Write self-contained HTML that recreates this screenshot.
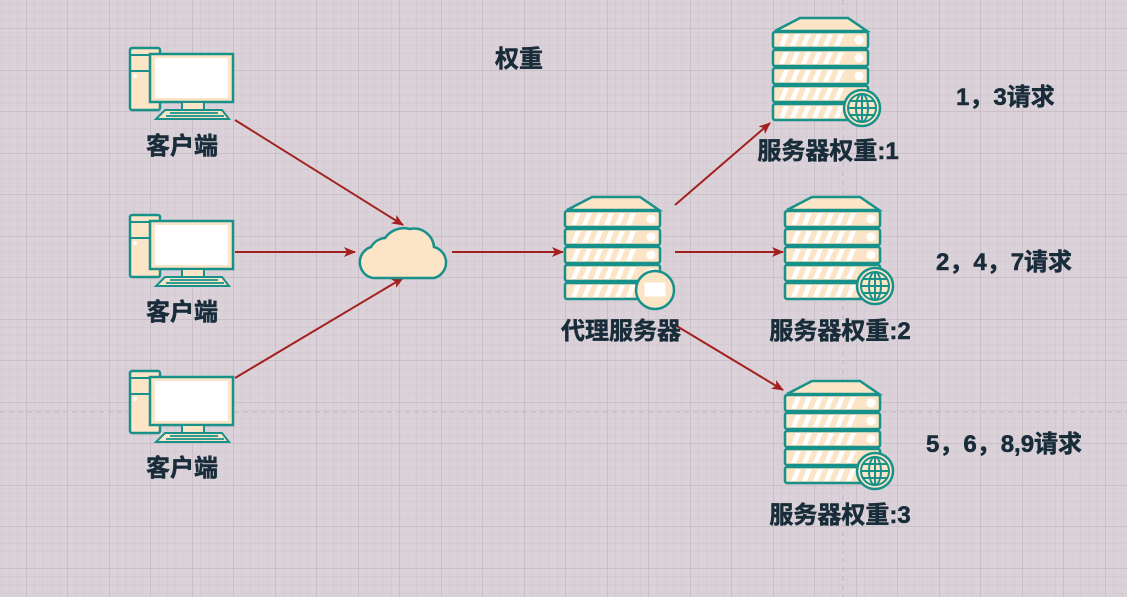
<!DOCTYPE html>
<html><head><meta charset="utf-8"><style>
html,body{margin:0;padding:0;width:1127px;height:597px;overflow:hidden;background:#dbd1d8}
text{font-family:"Liberation Sans","Noto Sans CJK SC",sans-serif;font-weight:bold;fill:#182c3a;stroke:#182c3a;stroke-width:0.5}
</style></head><body>
<svg width="1127" height="597" viewBox="0 0 1127 597" xmlns="http://www.w3.org/2000/svg">
<defs>
<pattern id="minor" x="26" y="28.5" width="8.3" height="8.3" patternUnits="userSpaceOnUse">
<path d="M0 0H8.3M0 0V8.3" stroke="#cfc5cc" stroke-width="1" fill="none"/></pattern>
<pattern id="major" x="26" y="28.5" width="41.5" height="41.5" patternUnits="userSpaceOnUse">
<path d="M0 0H41.5M0 0V41.5" stroke="#b9afb6" stroke-width="1" fill="none"/></pattern>
<marker id="ah" markerWidth="12" markerHeight="10" refX="11" refY="5" orient="auto" markerUnits="userSpaceOnUse">
<path d="M0 0L12 5L0 10L3 5Z" fill="#a3201f"/></marker>
<g id="row">
<rect x="0" y="0" width="95" height="16" rx="2" fill="#fbe5c6" stroke="#17918a" stroke-width="2.5"/>
<path d="M6 14l5-12h5l-5 12zM17 14l5-12h5l-5 12zM28 14l5-12h5l-5 12zM39 14l5-12h5l-5 12zM50 14l5-12h5l-5 12zM61 14l5-12h5l-5 12z" fill="#fff"/>
<circle cx="86" cy="8" r="4.5" fill="#fff"/></g>
<g id="srv">
<path d="M27 0H75L94 13H2Z" fill="#fbe5c6" stroke="#17918a" stroke-width="2.5"/>
<use href="#row" y="14"/><use href="#row" y="32"/><use href="#row" y="50"/><use href="#row" y="68"/><use href="#row" y="86"/>
</g>
<g id="globe">
<circle r="18" fill="#fbe5c6" stroke="#17918a" stroke-width="2.5"/>
<g fill="none" stroke="#17918a" stroke-width="2">
<circle r="14"/><ellipse rx="6" ry="14"/><path d="M0 -14V14M-14 0H14M-12 -7H12M-12 7H12"/></g></g>
<g id="client">
<rect x="0" y="0" width="30" height="62" rx="2" fill="#fbe5c6" stroke="#17918a" stroke-width="2.5"/>
<path d="M0 7H30M0 23H30" stroke="#17918a" stroke-width="2"/>
<circle cx="5" cy="28" r="2" fill="#fff"/>
<rect x="20" y="6" width="83" height="48" fill="#fbe5c6" stroke="#17918a" stroke-width="2.5"/>
<rect x="25" y="10" width="73" height="40" fill="#fff"/>
<rect x="52" y="54" width="22" height="8" fill="#fbe5c6" stroke="#17918a" stroke-width="2"/>
<path d="M35 62H92L99 71H26Z" fill="#fbe5c6" stroke="#17918a" stroke-width="2"/>
<path d="M40 65H88M36 68H94" stroke="#17918a" stroke-width="1.8"/>
</g>
</defs>
<rect width="1127" height="597" fill="#dbd1d8"/>
<rect width="1127" height="597" fill="url(#minor)"/>
<rect width="1127" height="597" fill="url(#major)"/>
<path d="M0 412H1127M843 0V597" stroke="#c2b8bf" stroke-dasharray="5 4"/>

<g stroke="#a3201f" stroke-width="2" fill="none" marker-end="url(#ah)">
<path d="M235 120L403 225"/><path d="M235 252L355 252"/><path d="M235 378L403 278"/>
<path d="M452 252L563 252"/>
<path d="M675 205L770 123"/><path d="M675 252L783 252"/><path d="M675 325L783 390"/>
</g>

<use href="#client" x="130" y="48"/>
<use href="#client" x="130" y="215"/>
<use href="#client" x="130" y="371"/>

<path d="M373 278H434A16 16 0 0 0 434 247 A20 20 0 0 0 410 229 A23 23 0 0 0 385 238 A18 18 0 0 0 371 247 A16 16 0 0 0 373 278Z" fill="#fbe5c6" stroke="#17918a" stroke-width="2.5"/>

<use href="#srv" x="565" y="197"/>
<circle cx="655" cy="290" r="19" fill="#fbe5c6" stroke="#17918a" stroke-width="2.5"/>
<rect x="644" y="282" width="22" height="15" fill="#fff" stroke="#fbe5c6" stroke-width="1"/>

<use href="#srv" x="773" y="18"/><use href="#globe" x="862" y="108"/>
<use href="#srv" x="785" y="197"/><use href="#globe" x="875" y="286"/>
<use href="#srv" x="785" y="381"/><use href="#globe" x="875" y="471"/>

<g font-size="24" text-anchor="middle">
<text x="519" y="67">权重</text>
<text x="182" y="154">客户端</text>
<text x="182" y="320">客户端</text>
<text x="182" y="476">客户端</text>
<text x="621" y="339">代理服务器</text>
<text x="828" y="159">服务器权重:1</text>
<text x="840" y="339">服务器权重:2</text>
<text x="840" y="523">服务器权重:3</text>
</g>
<g font-size="24">
<text x="956" y="105">1，3请求</text>
<text x="936" y="270">2，4，7请求</text>
<text x="926" y="452">5，6，8,9请求</text>
</g>
</svg>
</body></html>
